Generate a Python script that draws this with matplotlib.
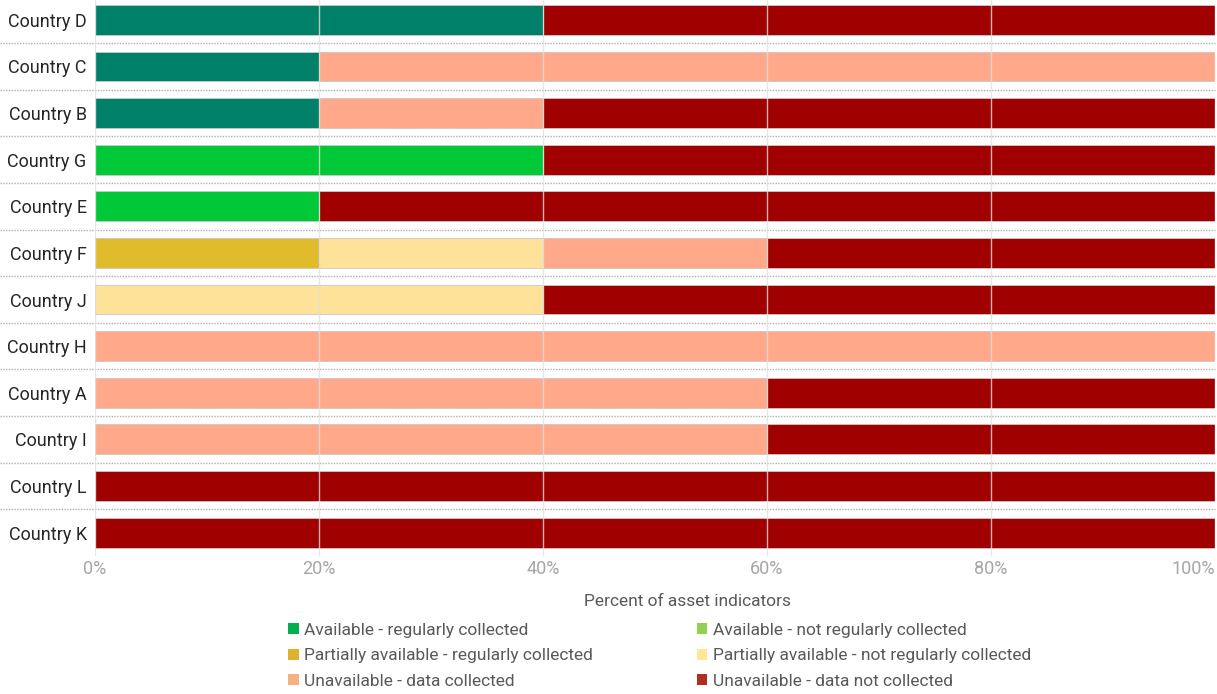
import matplotlib.pyplot as plt
from matplotlib.patches import Patch
from matplotlib.ticker import PercentFormatter
import numpy as np

plt.rcParams['font.family'] = ['Roboto', 'DejaVu Sans']

countries = ['Country D', 'Country C', 'Country B', 'Country G', 'Country E', 'Country F',
             'Country J', 'Country H', 'Country A', 'Country I', 'Country L', 'Country K']

# percent of indicators per category
avail_reg = [40, 20, 20, 0, 0, 0, 0, 0, 0, 0, 0, 0]
avail_notreg = [0, 0, 0, 40, 20, 0, 0, 0, 0, 0, 0, 0]
partial_reg = [0, 0, 0, 0, 0, 20, 0, 0, 0, 0, 0, 0]
partial_notreg = [0, 0, 0, 0, 0, 20, 40, 0, 0, 0, 0, 0]
unavail_coll = [0, 80, 20, 0, 0, 20, 0, 100, 60, 60, 0, 0]
unavail_notcoll = [60, 0, 60, 60, 80, 40, 60, 0, 40, 40, 100, 100]

series = [avail_reg, avail_notreg, partial_reg, partial_notreg, unavail_coll, unavail_notcoll]
bar_colors = ['#008068', '#00c837', '#e0bb2c', '#fee29a', '#ffa98a', '#a00000']

legend_labels = ['Available - regularly collected', 'Available - not regularly collected',
                 'Partially available - regularly collected', 'Partially available - not regularly collected',
                 'Unavailable - data collected', 'Unavailable - data not collected']
legend_colors = ['#00b050', '#92d050', '#e0b030', '#ffe699', '#f4b183', '#b03020']

fig = plt.figure(figsize=(12.17, 6.94), dpi=100)
ax = fig.add_axes([0.0781, 0.199, 0.9203, 0.806])

y = np.arange(len(countries))
left = np.zeros(len(countries))
for vals, c in zip(series, bar_colors):
    ax.barh(y, vals, left=left, height=0.64, color=c, edgecolor='#c8c8c8', linewidth=0.6)
    left += np.array(vals)

ax.set_ylim(len(countries) - 0.5, -0.5)
ax.set_xlim(0, 100)
ax.set_yticks(y)
ax.set_yticklabels(countries, fontsize=13, color='#262626')
ax.set_xticks(np.arange(0, 101, 20))
ax.xaxis.set_major_formatter(PercentFormatter(decimals=0))
ax.tick_params(axis='x', colors='#a6a6a6', labelsize=13, length=0, pad=3)
ax.tick_params(axis='y', length=0, pad=6)
xt = ax.get_xticklabels()
xt[-1].set_horizontalalignment('right')
for s in ax.spines.values():
    s.set_visible(False)

ax.set_axisbelow(False)
ax.grid(axis='x', color='#e0e0e0', linewidth=1, alpha=0.8)

# dotted row separators, running under the labels too
for yy in np.arange(0.5, len(countries) - 1, 1):
    ax.plot([-0.085, 1], [yy, yy], transform=ax.get_yaxis_transform(), clip_on=False,
            color='#b0b0b0', linestyle=(0, (1, 1)), linewidth=1)

ax.set_xlabel('Percent of asset indicators', fontsize=12.5, color='#595959')
ax.xaxis.set_label_coords(0.529, -0.068)

handles = [Patch(facecolor=c, edgecolor='none') for c in legend_colors]
order = [0, 2, 4, 1, 3, 5]
fig.legend([handles[i] for i in order], [legend_labels[i] for i in order], ncol=2,
           loc='center', bbox_to_anchor=(0.542, 0.055), frameon=False, fontsize=12.5,
           handlelength=0.6, handleheight=0.6, handletextpad=0.3, columnspacing=6.0,
           labelspacing=0.62, labelcolor='#595959')

fig.savefig('out.png', dpi=100)
